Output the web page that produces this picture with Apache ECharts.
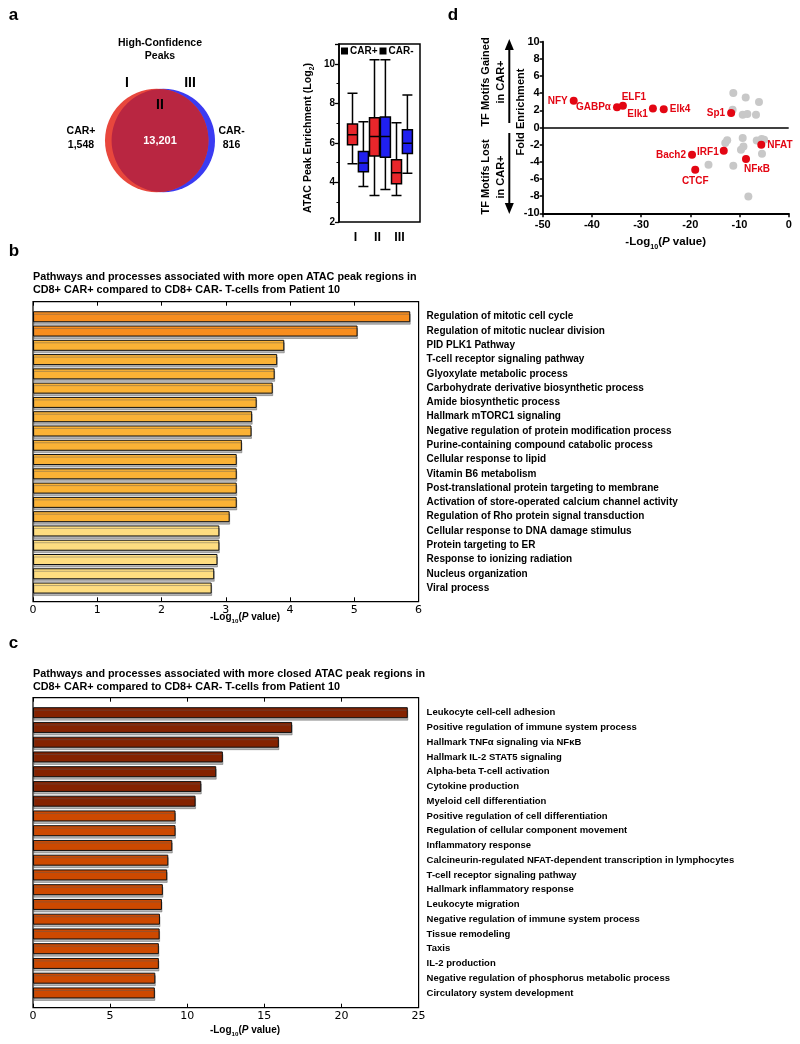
<!DOCTYPE html>
<html><head><meta charset="utf-8">
<script src="https://cdn.jsdelivr.net/npm/echarts@6/dist/echarts.min.js"></script>
<style>html,body{margin:0;padding:0;background:#fff}#c{width:800px;height:1044px}</style>
</head><body><div id="c"></div>
<script>
// ---------- DATA ----------
// Panel a: Venn
const vennSets = ['CAR+', 'CAR-'];
const vennCounts = ['1,548', '13,201', '816'];
const vennRegions = ['I', 'II', 'III'];
// Panel a: box plot [min, Q1, median, Q3, max]
const boxCategories = ['I', 'II', 'III'];
const boxCarPos = [[4.95, 5.90, 6.41, 6.95, 8.51], [3.34, 5.34, 6.32, 7.27, 10.2], [3.34, 3.93, 4.49, 5.15, 7.02]];
const boxCarNeg = [[3.80, 4.54, 4.98, 5.56, 7.07], [3.64, 5.27, 6.32, 7.31, 10.2], [4.47, 5.46, 5.98, 6.66, 8.42]];
// Panel b
const openPathways = [
  'Regulation of mitotic cell cycle', 'Regulation of mitotic nuclear division', 'PID PLK1 Pathway',
  'T-cell receptor signaling pathway', 'Glyoxylate metabolic process', 'Carbohydrate derivative biosynthetic process',
  'Amide biosynthetic process', 'Hallmark mTORC1 signaling', 'Negative regulation of protein modification process',
  'Purine-containing compound catabolic process', 'Cellular response to lipid', 'Vitamin B6 metabolism',
  'Post-translational protein targeting to membrane', 'Activation of store-operated calcium channel activity',
  'Regulation of Rho protein signal transduction', 'Cellular response to DNA damage stimulus',
  'Protein targeting to ER', 'Response to ionizing radiation', 'Nucleus organization', 'Viral process'];
const openValues = [5.87, 5.05, 3.91, 3.80, 3.76, 3.73, 3.48, 3.41, 3.40, 3.25, 3.17, 3.17, 3.17, 3.17, 3.06, 2.90, 2.90, 2.87, 2.82, 2.78];
const openTier = [0, 0, 1, 1, 1, 1, 1, 1, 1, 1, 1, 1, 1, 1, 1, 2, 2, 2, 2, 2];
// Panel c
const closedPathways = [
  'Leukocyte cell-cell adhesion', 'Positive regulation of immune system process', 'Hallmark TNF\u03b1 signaling via NF\u03baB',
  'Hallmark IL-2 STAT5 signaling', 'Alpha-beta T-cell activation', 'Cytokine production', 'Myeloid cell differentiation',
  'Positive regulation of cell differentiation', 'Regulation of cellular component movement', 'Inflammatory response',
  'Calcineurin-regulated NFAT-dependent transcription in lymphocytes', 'T-cell receptor signaling pathway',
  'Hallmark inflammatory response', 'Leukocyte migration', 'Negative regulation of immune system process',
  'Tissue remodeling', 'Taxis', 'IL-2 production', 'Negative regulation of phosphorus metabolic process',
  'Circulatory system development'];
const closedValues = [24.3, 16.8, 15.94, 12.31, 11.88, 10.91, 10.54, 9.24, 9.24, 9.03, 8.77, 8.70, 8.42, 8.36, 8.23, 8.21, 8.16, 8.16, 7.93, 7.90];
const closedTier = [0, 0, 0, 0, 0, 0, 0, 1, 1, 1, 1, 1, 1, 1, 1, 1, 1, 1, 1, 1];
// Panel d
const motifNames = ['NFY', 'GABP\u03b1', 'ELF1', 'Elk1', 'Elk4', 'Sp1', 'Bach2', 'CTCF', 'IRF1', 'NF\u03baB', 'NFAT'];
const motifX = [-43.7, -34.9, -33.7, -27.6, -25.4, -11.7, -19.65, -19.0, -13.2, -8.68, -5.57];
const motifY = [3.11, 2.37, 2.53, 2.21, 2.14, 1.68, -3.18, -4.93, -2.71, -3.68, -2.02];
const otherX = [-11.26, -8.74, -6.04, -11.4, -9.35, -8.41, -6.65, -12.9, -12.5, -9.35, -6.5, -5.49, -5.0, -9.2, -9.7, -16.3, -11.26, -5.43, -8.2];
const otherY = [4.01, 3.49, 2.96, 2.06, 1.48, 1.56, 1.48, -1.8, -1.5, -1.23, -1.51, -1.35, -1.43, -2.21, -2.6, -4.34, -4.46, -3.06, -8.04];

// ---------- STYLE ----------
const FF = '"Liberation Sans", Arial, Helvetica, sans-serif';
const fb = s => 'bold ' + s + 'px ' + FF;
const openColors = ['#F78D1E', '#FBB235', '#FEDD80'];
const closedColors = ['#842200', '#CD4900'];
const RED = '#E30613';
const labelPlace = {
  'NFY': {position: 'left', distance: 2},
  'GABP\u03b1': {position: 'left', distance: 2},
  'ELF1': {position: 'top', distance: 1, offset: [11, 1]},
  'Elk1': {position: 'left', distance: 1, offset: [0, 6]},
  'Elk4': {position: 'right', distance: 2},
  'Sp1': {position: 'left', distance: 2},
  'Bach2': {position: 'left', distance: 2},
  'CTCF': {position: 'bottom', distance: 2},
  'IRF1': {position: 'left', distance: 1, offset: [0, 1]},
  'NF\u03baB': {position: 'bottom', distance: 1, offset: [11, 0]},
  'NFAT': {position: 'right', distance: 2}
};

function txt(text, x, y, font, opts) {
  opts = opts || {};
  return {
    type: 'text', x: x, y: y, rotation: opts.rotation || 0, z: 100,
    style: Object.assign({
      text: text, font: font, fill: opts.fill || '#000',
      textAlign: opts.align || 'center', textVerticalAlign: opts.valign || 'middle',
      lineHeight: opts.lineHeight
    }, opts.rich ? {rich: opts.rich} : {})
  };
}
const subRich = (size) => ({
  s: {fontSize: size * 0.62, fontWeight: 'bold', fontFamily: FF, verticalAlign: 'bottom', padding: [0, 0, -2, 0]},
  i: {fontSize: size, fontWeight: 'bold', fontStyle: 'italic', fontFamily: FF}
});

// Venn geometry
const vr = 51.7, vcy = 140.5, vcxR = 156.7, vcxB = 163.3;
function lensPoints() {
  const pts = [];
  const xm = (vcxR + vcxB) / 2;
  const t0 = Math.acos((xm - vcxR) / vr);
  for (let k = 0; k <= 60; k++) {
    const t = -t0 + 2 * t0 * k / 60;
    pts.push([vcxR + vr * Math.cos(t), vcy + vr * Math.sin(t)]);
  }
  const t1 = Math.acos((vcxB - xm) / vr);
  for (let k = 0; k <= 60; k++) {
    const t = Math.PI - t1 + 2 * t1 * k / 60;
    pts.push([vcxB + vr * Math.cos(t), vcy - vr * Math.sin(t)]);
  }
  return pts;
}

const graphics = [
  txt('a', 13.5, 15, fb(17)), txt('b', 14, 251, fb(17)), txt('c', 13.5, 643, fb(17)), txt('d', 453, 15, fb(17)),
  // Venn
  {type: 'circle', shape: {cx: vcxB, cy: vcy, r: vr}, style: {fill: '#3B3BF2'}},
  {type: 'circle', shape: {cx: vcxR, cy: vcy, r: vr}, style: {fill: '#E8473D'}},
  {type: 'polygon', shape: {points: lensPoints()}, style: {fill: '#B92641'}},
  txt('High-Confidence\nPeaks', 160, 49.5, fb(10.5), {lineHeight: 13}),
  txt(vennRegions[0], 127, 83, fb(14)), txt(vennRegions[2], 190, 83, fb(14)), txt(vennRegions[1], 160, 105, fb(14)),
  txt(vennSets[0] + '\n' + vennCounts[0], 81, 138, fb(10.5), {lineHeight: 14}),
  txt(vennSets[1] + '\n' + vennCounts[2], 231.5, 138, fb(10.5), {lineHeight: 14}),
  txt(vennCounts[1], 160, 141, fb(11), {fill: '#fff'}),
  // box plot frame + y name
  {type: 'rect', z: 50, shape: {x: 339, y: 44, width: 81, height: 178}, style: {fill: 'none', stroke: '#000', lineWidth: 1.5}},
  txt('ATAC Peak Enrichment (Log{s|2})', 308, 138, fb(10.6), {rotation: Math.PI / 2, rich: subRich(10.6)}),
  // panel b
  txt('Pathways and processes associated with more open ATAC peak regions in\nCD8+ CAR+ compared to CD8+ CAR- T-cells from Patient 10', 33, 283.5, fb(10.8), {align: 'left', lineHeight: 13}),
  {type: 'rect', z: 50, shape: {x: 33, y: 301.7, width: 385.6, height: 300}, style: {fill: 'none', stroke: '#000', lineWidth: 1.2}},
  txt('-Log{s|10}({i|P} value)', 245, 617, fb(10), {rich: subRich(10)}),
  // panel c
  txt('Pathways and processes associated with more closed ATAC peak regions in\nCD8+ CAR+ compared to CD8+ CAR- T-cells from Patient 10', 33, 680.5, fb(10.8), {align: 'left', lineHeight: 13}),
  {type: 'rect', z: 50, shape: {x: 33, y: 697.7, width: 385.6, height: 310}, style: {fill: 'none', stroke: '#000', lineWidth: 1.2}},
  txt('-Log{s|10}({i|P} value)', 245, 1030, fb(10), {rich: subRich(10)}),
  // panel d
  txt('Fold Enrichment', 521, 112, fb(11), {rotation: Math.PI / 2}),
  txt('TF Motifs Gained\nin CAR+', 493.5, 82, fb(11), {rotation: Math.PI / 2, lineHeight: 15}),
  txt('TF Motifs Lost\nin CAR+', 493.5, 177, fb(11), {rotation: Math.PI / 2, lineHeight: 15}),
  {type: 'line', shape: {x1: 509.3, y1: 48, x2: 509.3, y2: 123}, style: {stroke: '#000', lineWidth: 2}},
  {type: 'polygon', shape: {points: [[504.8, 50], [513.8, 50], [509.3, 39]]}, style: {fill: '#000'}},
  {type: 'line', shape: {x1: 509.3, y1: 133, x2: 509.3, y2: 204}, style: {stroke: '#000', lineWidth: 2}},
  {type: 'polygon', shape: {points: [[504.8, 203], [513.8, 203], [509.3, 214]]}, style: {fill: '#000'}}
];

const hiddenVal = (gi) => ({type: 'value', gridIndex: gi, min: 2, max: 11, show: false});
const hiddenCat = (gi) => ({type: 'category', gridIndex: gi, data: boxCategories, show: false});
const barYAxis = (gi, names, fs) => ({
  type: 'category', gridIndex: gi, data: names, inverse: true, position: 'right',
  axisLine: {show: false}, axisTick: {show: false},
  axisLabel: {fontSize: fs, fontWeight: 'bold', fontFamily: FF, color: '#000', margin: 8, padding: [3, 0, 0, 0]}
});
const barXAxis = (gi, max, interval, pos, offset, labels) => ({
  type: 'value', gridIndex: gi, min: 0, max: max, interval: interval, position: pos, offset: offset,
  axisLine: {show: false}, splitLine: {show: false},
  axisTick: {show: true, inside: true, length: 4, lineStyle: {color: '#000', width: 1}},
  axisLabel: {show: labels, fontSize: 11, fontFamily: '"DejaVu Sans", sans-serif', color: '#000', margin: 3}
});

const option = {
  animation: false,
  backgroundColor: '#fff',
  graphic: graphics,
  legend: {
    data: ['CAR+', 'CAR-'], left: 341, top: 46, itemWidth: 7, itemHeight: 7, itemGap: 2, padding: 0,
    icon: 'rect', itemStyle: {borderWidth: 0},
    textStyle: {fontSize: 10, fontWeight: 'bold', fontFamily: FF, color: '#000', padding: [0, 0, 0, -3]}
  },
  grid: [
    {left: 344.5, top: 44, width: 66, height: 178},
    {left: 341.5, top: 44, width: 66, height: 178},
    {left: 352.4, top: 44, width: 66, height: 178},
    {left: 33, top: 309.6, width: 385.6, height: 285.6},
    {left: 33, top: 705.3, width: 385.6, height: 295},
    {left: 542.7, top: 41.7, width: 246, height: 171.6}
  ],
  xAxis: [
    {type: 'category', gridIndex: 0, data: boxCategories, axisLine: {show: false}, axisTick: {show: false},
      axisLabel: {fontSize: 12.5, fontWeight: 'bold', fontFamily: FF, color: '#000', margin: 9}},
    hiddenCat(1), hiddenCat(2),
    barXAxis(3, 6, 1, 'bottom', 6.1, true),
    barXAxis(3, 6, 1, 'top', 7.9, false),
    barXAxis(4, 25, 5, 'bottom', 7.4, true),
    barXAxis(4, 25, 5, 'top', 7.6, false),
    {type: 'value', gridIndex: 5, min: -50, max: 0, interval: 10,
      axisLine: {show: true, onZero: false, lineStyle: {color: '#000', width: 1.8}},
      axisTick: {show: true, length: 4, lineStyle: {color: '#000', width: 1.5}},
      splitLine: {show: false},
      axisLabel: {fontSize: 11, fontWeight: 'bold', fontFamily: FF, color: '#000', margin: 6},
      name: '-Log{s|10}({i|P} value)', nameLocation: 'middle', nameGap: 23,
      nameTextStyle: {fontSize: 11.5, fontWeight: 'bold', fontFamily: FF, color: '#000', rich: subRich(11.5)}}
  ],
  yAxis: [
    {type: 'value', gridIndex: 0, min: 2, max: 11, interval: 2, offset: 5.5,
      axisLine: {show: true, lineStyle: {color: '#000', width: 1.5}},
      axisTick: {show: true, length: 4, lineStyle: {color: '#000', width: 1.3}},
      minorTick: {show: true, splitNumber: 2, length: 2.5, lineStyle: {color: '#000', width: 1}},
      splitLine: {show: false},
      axisLabel: {fontSize: 10, fontWeight: 'bold', fontFamily: FF, color: '#000', margin: 4, showMaxLabel: false}},
    hiddenVal(1), hiddenVal(2),
    barYAxis(3, openPathways, 10),
    barYAxis(4, closedPathways, 9.5),
    {type: 'value', gridIndex: 5, min: -10, max: 10, interval: 2,
      axisLine: {show: true, onZero: false, lineStyle: {color: '#000', width: 1.8}},
      axisTick: {show: true, length: 3, lineStyle: {color: '#000', width: 1.5}},
      splitLine: {show: false},
      axisLabel: {fontSize: 11, fontWeight: 'bold', fontFamily: FF, color: '#000', margin: 3}}
  ],
  series: [
    {name: 'CAR+', type: 'boxplot', xAxisIndex: 1, yAxisIndex: 1, data: boxCarPos, boxWidth: [10, 10],
      itemStyle: {color: '#E8262B', borderColor: '#000', borderWidth: 1.5}},
    {name: 'CAR-', type: 'boxplot', xAxisIndex: 2, yAxisIndex: 2, data: boxCarNeg, boxWidth: [10, 10],
      itemStyle: {color: '#2020F0', borderColor: '#000', borderWidth: 1.5}},
    {type: 'bar', xAxisIndex: 3, yAxisIndex: 3, barWidth: 11,
      data: openValues.map((v, i) => ({value: v, itemStyle: {color: openColors[openTier[i]]}})),
      itemStyle: {borderColor: '#111', borderWidth: 1, shadowColor: 'rgba(90,90,90,0.45)', shadowOffsetY: 2.5, shadowOffsetX: 0.5, shadowBlur: 0}},
    {type: 'bar', xAxisIndex: 5, yAxisIndex: 4, barWidth: 11,
      data: closedValues.map((v, i) => ({value: v, itemStyle: {color: closedColors[closedTier[i]]}})),
      itemStyle: {borderColor: '#111', borderWidth: 1, shadowColor: 'rgba(90,90,90,0.45)', shadowOffsetY: 2.5, shadowOffsetX: 0.5, shadowBlur: 0}},
    {type: 'scatter', xAxisIndex: 7, yAxisIndex: 5, symbolSize: 8,
      data: otherX.map((x, i) => [x, otherY[i]]),
      itemStyle: {color: '#C8C8C8', opacity: 1},
      markLine: {silent: true, symbol: 'none', label: {show: false},
        lineStyle: {color: '#000', width: 1.6, type: 'solid'}, data: [{yAxis: 0}]}},
    {type: 'scatter', xAxisIndex: 7, yAxisIndex: 5, symbolSize: 8, z: 5,
      data: motifX.map((x, i) => ({
        value: [x, motifY[i]], name: motifNames[i],
        label: Object.assign({show: true, formatter: '{b}'}, labelPlace[motifNames[i]])
      })),
      itemStyle: {color: RED, opacity: 1},
      label: {show: true, color: RED, fontSize: 10, fontWeight: 'bold', fontFamily: FF}}
  ]
};
const chart = echarts.init(document.getElementById('c'), null, {renderer: 'canvas', width: 800, height: 1044});
chart.setOption(option);
</script>
</body></html>
